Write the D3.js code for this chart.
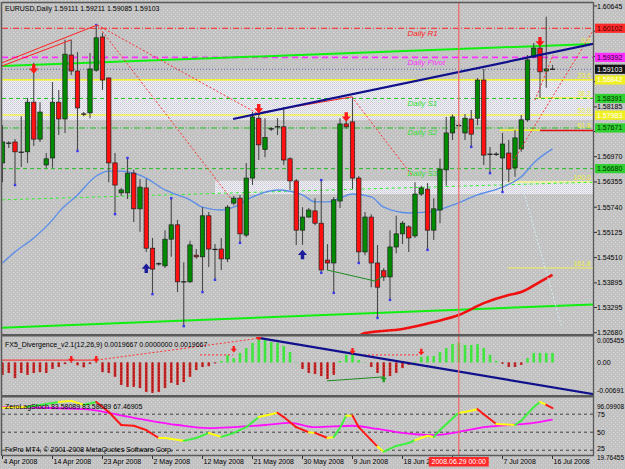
<!DOCTYPE html>
<html>
<head>
<meta charset="utf-8">
<title>EURUSD,Daily</title>
<script src="https://cdn.jsdelivr.net/npm/d3@7"></script>
<style>
  html, body { margin: 0; padding: 0; background: #c0c0c0; }
  svg { display: block; }
  text { font-family: "Liberation Sans", Arial, sans-serif; }
</style>
</head>
<body>
<div id="chart"></div>
<script>
// ---- values ----

// daily bars 4 Apr .. 16 Jul 2008 (broker has Sunday stubs), [open, high, low, close]
const ohlc = [
  [1.5682,1.5774,1.5635,1.5733],[1.5728,1.5735,1.5718,1.5730],[1.5733,1.5740,1.5628,1.5709],[1.5710,1.5796,1.5672,1.5708],
  [1.5709,1.5840,1.5682,1.5830],[1.5830,1.5926,1.5723,1.5740],[1.5740,1.5830,1.5733,1.5806],[1.5677,1.5706,1.5670,1.5692],
  [1.5694,1.5879,1.5670,1.5830],[1.5830,1.5860,1.5750,1.5789],[1.5789,1.5982,1.5755,1.5947],[1.5945,1.5982,1.5896,1.5906],
  [1.5906,1.5952,1.5711,1.5816],[1.5803,1.5806,1.5796,1.5801],[1.5804,1.5950,1.5791,1.5911],[1.5908,1.6018,1.5904,1.5987],
  [1.5989,1.5999,1.5860,1.5884],[1.5889,1.5891,1.5635,1.5682],[1.5682,1.5706,1.5557,1.5628],[1.5609,1.5621,1.5601,1.5616],
  [1.5609,1.5694,1.5594,1.5657],[1.5657,1.5665,1.5538,1.5570],[1.5570,1.5643,1.5514,1.5623],[1.5621,1.5643,1.5465,1.5474],
  [1.5474,1.5499,1.5362,1.5423],[1.5437,1.5440,1.5431,1.5436],[1.5431,1.5518,1.5426,1.5496],[1.5496,1.5596,1.5453,1.5531],
  [1.5531,1.5543,1.5367,1.5392],[1.5394,1.5440,1.5284,1.5392],[1.5392,1.5492,1.5389,1.5482],[1.5457,1.5472,1.5448,1.5453],
  [1.5453,1.5574,1.5367,1.5553],[1.5553,1.5562,1.5428,1.5472],[1.5473,1.5484,1.5397,1.5471],[1.5472,1.5499,1.5421,1.5448],
  [1.5448,1.5579,1.5440,1.5574],[1.5584,1.5601,1.5579,1.5596],[1.5596,1.5604,1.5487,1.5509],[1.5506,1.5682,1.5501,1.5645],
  [1.5645,1.5806,1.5628,1.5794],[1.5791,1.5811,1.5689,1.5726],[1.5715,1.5791,1.5696,1.5744],[1.5764,1.5769,1.5760,1.5765],
  [1.5767,1.5791,1.5750,1.5770],[1.5770,1.5818,1.5677,1.5689],[1.5692,1.5696,1.5616,1.5638],[1.5638,1.5643,1.5482,1.5518],
  [1.5518,1.5574,1.5482,1.5550],[1.5550,1.5572,1.5548,1.5567],[1.5565,1.5596,1.5530,1.5535],[1.5535,1.5640,1.5414,1.5421],
  [1.5445,1.5484,1.5421,1.5438],[1.5438,1.5599,1.5365,1.5592],[1.5589,1.5791,1.5572,1.5777],[1.5777,1.5787,1.5765,1.5770],
  [1.5782,1.5843,1.5618,1.5645],[1.5645,1.5650,1.5438,1.5465],[1.5465,1.5562,1.5457,1.5550],[1.5550,1.5557,1.5379,1.5438],
  [1.5438,1.5482,1.5304,1.5379],[1.5419,1.5426,1.5394,1.5404],[1.5404,1.5518,1.5348,1.5477],[1.5477,1.5553,1.5462,1.5509],
  [1.5509,1.5540,1.5484,1.5535],[1.5526,1.5530,1.5465,1.5499],[1.5504,1.5635,1.5499,1.5606],[1.5606,1.5626,1.5601,1.5621],
  [1.5618,1.5633,1.5470,1.5518],[1.5518,1.5596,1.5494,1.5570],[1.5567,1.5692,1.5535,1.5667],[1.5665,1.5794,1.5626,1.5755],
  [1.5755,1.5800,1.5738,1.5794],[1.5775,1.5779,1.5769,1.5773],[1.5755,1.5801,1.5738,1.5791],[1.5789,1.5811,1.5721,1.5752],
  [1.5791,1.5889,1.5774,1.5884],[1.5884,1.5911,1.5677,1.5701],[1.5704,1.5721,1.5657,1.5703],[1.5704,1.5708,1.5699,1.5703],
  [1.5694,1.5755,1.5611,1.5728],[1.5706,1.5738,1.5635,1.5667],[1.5670,1.5762,1.5648,1.5743],[1.5716,1.5799,1.5709,1.5787],
  [1.5787,1.5945,1.5782,1.5933],[1.5940,1.5974,1.5938,1.5962],[1.5962,1.5982,1.5840,1.5904],[1.5906,1.6038,1.5865,1.5911],
  [1.59111,1.59211,1.59085,1.59103]
];

const dateTicks = [
  [0,"4 Apr 2008"],[8,"14 Apr 2008"],[16,"23 Apr 2008"],[24,"2 May 2008"],[32,"12 May 2008"],[40,"21 May 2008"],
  [48,"30 May 2008"],[56,"9 Jun 2008"],[64,"18 Jun 2008"],[72,"27 Jun 2008"],[80,"7 Jul 2008"],[88,"16 Jul 2008"]
];
const cursorBar = 73, cursorLabel = "2008.06.29 00:00";

const priceTicks = [1.60645,1.60030,1.59415,1.58800,1.58185,1.57585,1.56970,1.56355,1.55740,1.55125,1.54510,1.53895,1.53295,1.52680];

const pivots = [["Daily R1",1.60102],["Daily Pivot",1.59392],["Daily S1",1.58391],["Daily S2",1.57671],["Daily S3",1.56680]];
const lastPrice = 1.59103;
const fibLevels = [["0.0",1.59694],["23.6",1.58842],["38.2",1.58402],["50.0",1.57987],["61.8",1.57621],["100.0",1.56354],["161.8",1.54257]];
const fibBoxes = [1.58842, 1.57983];

// moving averages, sampled [bar, price]
const maBlue = [[0,1.5438],[2,1.5465],[5,1.5499],[8,1.5543],[9,1.5562],[12,1.5604],[15,1.5650],[17,1.5662],[19,1.5662],
  [21,1.5657],[23,1.5645],[26,1.5616],[28,1.5604],[30,1.5592],[32,1.5574],[35,1.5567],[37,1.5574],[40,1.5599],[44,1.5616],
  [48,1.5604],[50,1.5587],[52,1.5587],[54,1.5596],[56,1.5606],[59,1.5599],[61,1.5574],[65,1.5560],[68,1.5562],[72,1.5579],
  [76,1.5604],[80,1.5623],[83,1.5648],[85,1.5682],[88,1.5716]];
const maRed = [[56,1.5250],[58,1.5267],[64,1.5277],[69,1.5294],[73,1.5311],[77,1.5340],[81,1.5360],[83,1.5367],[86,1.5392],[88,1.5409]];

// drawn objects, anchors as [bar, price]
const channelTop = [[-0.1,1.5918],[94.5,1.5972]];
const channelBot = [[-0.1,1.5280],[94.5,1.5337]];
const blueTrend = [[36.9,1.5789],[94.5,1.5972]];
const greenDash = [[-0.1,1.5592],[94.5,1.5635]];
const redSolid = [[[-0.1,1.5926],[15.1,1.6018]],[[-0.1,1.5918],[11,1.5982]],[[41,1.5804],[55.9,1.5843]]];
const redDotted = [[[15.2,1.6018],[41.2,1.5799]],[[15.2,1.6018],[36.7,1.5592]],[[55.9,1.5843],[65.5,1.5652]],
  [[81.8,1.5689],[97.5,1.6079]],[[85.2,1.5835],[88.1,1.5945]]];
const cyanDotted = [[83.1,1.5628],[89.5,1.5280]];
const greenDiv = [[51.9,1.5421],[59.6,1.5394],[60.9,1.5406]];
const band1 = [1.58841, 1.5787];
const band2 = [1.5638, 1.5606, 34];
const fib618Seg = [[79.6,86],[86,94.5]];
const fib382Seg = [85.5,94.5];
const fibLowSeg = 80.8;

const arrowsDown = [[5,1.5908],[41,1.5811],[55,1.5791],[86,1.5974]];
const arrowsUp = [[23,1.5428],[48,1.5462]];
const fractals = [[2,"l"],[12,"l"],[15,"h"],[18,"l"],[20,"h"],[24,"l"],[27,"h"],[29,"l"],[32,"l"],[34,"l"],[38,"l"],
  [51,"h"],[51,"l"],[53,"l"],[57,"l"],[60,"l"],[62,"l"],[68,"l"],[75,"l"],[78,"l"],[80,"l"]];

// FX5_Divergence histogram
const macd = [-0.0031,-0.0026,-0.0039,-0.0026,-0.0031,-0.0026,-0.0024,-0.0026,-0.0016,-0.0011,-0.0004,-0.0001,-0.0007,
  -0.0012,-0.0004,-0.0001,-0.0024,-0.0026,-0.0036,-0.0056,-0.0061,-0.0061,-0.0064,-0.0074,-0.0076,-0.0074,-0.0064,-0.0051,
  -0.0056,-0.0049,-0.0036,-0.0019,-0.0011,-0.0009,-0.0002,0.0004,0.0019,0.0011,0.0024,0.0036,0.0049,0.0061,0.0059,0.0051,
  0.0049,0.0041,0.0026,0.0001,-0.0016,-0.0026,-0.0029,-0.0034,-0.0041,-0.0031,0.0004,0.0019,0.0026,0.0006,0.0001,-0.0011,
  -0.0026,-0.0036,-0.0034,-0.0026,-0.0014,-0.0006,0.0002,0.0014,0.0016,0.0016,0.0026,0.0036,0.0046,0.0049,0.0044,0.0044,
  0.0046,0.0036,0.0019,0.0004,-0.0003,-0.0011,-0.0011,-0.0006,0.0011,0.0024,0.0024,0.0024,0.0024];
const macdRedSolid = [[-0.1,0.0006],[15.1,0.0006]];
const macdRedDotted = [[[15.1,0.0006],[41.2,0.0061]],[[31.6,0.0019],[36.9,0.0019]],[[57.2,0.0019],[66.8,0.0019]]];
const macdBlue = [[41.2,0.0061],[94.5,-0.0079]];
const macdGreen = [[51.9,-0.0046],[61,-0.0036]];
const macdDown = [[11,0.0006],[15,0.0006],[37,0.0031],[41,0.0061],[56,0.0026],[67,0.0024]];
const macdUp = [[61,-0.0039]];

// ZeroLagStoch main [bar, value, colour code], signal [bar, value]
const stochMain = [[0,83.8,"Y"],[4,85,"Y"],[9,92,"G"],[11,93.5,"Y"],[13,88,"Y"],[15,92,"G"],[17,78,"R"],[19,60,"R"],
  [21,59,"R"],[23,53,"R"],[25,42,"R"],[26,42,"Y"],[29,38,"Y"],[31,42,"G"],[33,49,"G"],[35,43.5,"Y"],[37,49,"G"],[39,57,"G"],
  [41,71,"G"],[43,75,"Y"],[44,77,"Y"],[45,71,"R"],[47,57,"R"],[49,50,"R"],[50,49,"Y"],[52,42,"R"],[53,43.5,"Y"],[54,56,"G"],
  [55,73,"G"],[56,73,"Y"],[57,57,"R"],[59,39,"R"],[60,30,"R"],[61,23,"Y"],[63,31,"G"],[65,35,"G"],[66,39,"G"],[68,45,"Y"],
  [69,43.5,"Y"],[70,53,"G"],[73,77,"G"],[74,78,"Y"],[76,82,"Y"],[77,75,"R"],[79,61.5,"R"],[82,60,"Y"],[83,66,"G"],[85,85,"G"],
  [86,92,"G"],[87,88,"Y"],[88,83.58,"R"]];
const stochSignal = [[0,85],[13,82],[21,70],[28,60],[33,55.6],[37,57],[42,60],[46,63],[50,57],[56,59],[60,54.6],[64,49],
  [69,46],[73,50.4],[77,57],[81,60],[85,63],[88,67.47]];
const stochLevels = [75, 50, 25];

// ---- chart ----
const W = 625, H = 469;
const L = 2, R = 593;
const pane = { main: [3, 334], macd: [337, 395], stoch: [398, 455] };
const FS = 7;

const svg = d3.select("#chart").append("svg").attr("width", W).attr("height", H);
const defs = svg.append("defs");

const bgPat = defs.append("pattern").attr("id", "bg").attr("width", 4).attr("height", 4).attr("patternUnits", "userSpaceOnUse");
bgPat.append("rect").attr("width", 4).attr("height", 4).attr("fill", "#c2c2c2");
bgPat.append("rect").attr("x", 1).attr("y", 0).attr("width", 1).attr("height", 1).attr("fill", "#d6d6d6");
bgPat.append("rect").attr("x", 3).attr("y", 2).attr("width", 1).attr("height", 1).attr("fill", "#d6d6d6");

const bandPat = defs.append("pattern").attr("id", "band").attr("width", 2).attr("height", 2).attr("patternUnits", "userSpaceOnUse");
bandPat.append("rect").attr("width", 2).attr("height", 2).attr("fill", "#f2f2f6");
bandPat.append("rect").attr("width", 1).attr("height", 1).attr("fill", "#c8c8d6");
bandPat.append("rect").attr("x", 1).attr("y", 1).attr("width", 1).attr("height", 1).attr("fill", "#d8d8e2");

Object.entries(pane).forEach(([k, [t, b]]) => {
  defs.append("clipPath").attr("id", "clip-" + k)
    .append("rect").attr("x", L).attr("y", t).attr("width", R - L).attr("height", b - t);
});

svg.append("rect").attr("width", W).attr("height", H).attr("fill", "url(#bg)");

const x = d3.scaleLinear().domain([0, 88]).range([2.5, 552.5]);
const y = d3.scaleLinear().domain([1.52680, 1.60645]).range([332.7, 6]);
const yM = d3.scaleLinear().domain([0, 0.005455]).range([362.5, 340.7]);
const yS = d3.scaleLinear().domain([19.76455, 96.09908]).range([454, 399]);

const line = (ys) => d3.line().x(d => x(d[0])).y(d => ys(d[1]));

// ---- main pane ----
const main = svg.append("g").attr("clip-path", "url(#clip-main)");

main.append("rect").attr("x", L).attr("width", R - L)
  .attr("y", y(band1[0])).attr("height", y(band1[1]) - y(band1[0])).attr("fill", "url(#band)");
main.append("rect").attr("x", x(band2[2])).attr("width", R - x(band2[2]))
  .attr("y", y(band2[0])).attr("height", y(band2[1]) - y(band2[0])).attr("fill", "url(#band)");

// fibonacci lines
const fib = Object.fromEntries(fibLevels);
["23.6", "50.0"].forEach(k => {
  main.append("line").attr("x1", L).attr("x2", R).attr("y1", y(fib[k])).attr("y2", y(fib[k]))
    .attr("stroke", "#ffff00").attr("stroke-width", 1.2);
});
main.append("line").attr("x1", x(fib382Seg[0])).attr("x2", x(fib382Seg[1]))
  .attr("y1", y(fib["38.2"])).attr("y2", y(fib["38.2"])).attr("stroke", "#ffff00").attr("stroke-width", 1);
main.append("line").attr("x1", x(fib618Seg[0][0])).attr("x2", x(fib618Seg[0][1]))
  .attr("y1", y(fib["61.8"])).attr("y2", y(fib["61.8"])).attr("stroke", "#ffff00").attr("stroke-width", 1.2);
main.append("line").attr("x1", x(fib618Seg[1][0])).attr("x2", x(fib618Seg[1][1]))
  .attr("y1", y(fib["61.8"]) + 0.5).attr("y2", y(fib["61.8"]) + 0.5).attr("stroke", "#e01010").attr("stroke-width", 1.6);
main.append("line").attr("x1", x(fibLowSeg)).attr("x2", R)
  .attr("y1", y(fib["100.0"])).attr("y2", y(fib["100.0"])).attr("stroke", "#ffff60").attr("stroke-width", 1);
main.append("line").attr("x1", x(fibLowSeg)).attr("x2", R)
  .attr("y1", y(fib["161.8"])).attr("y2", y(fib["161.8"])).attr("stroke", "#f0f060").attr("stroke-width", 1);

// pivot levels
const pivStyle = {
  "Daily R1": { c: "#ff2020", t: "#ff2020", dash: "6,2,1,2", w: 1 },
  "Daily Pivot": { c: "#ff30ff", t: "#ff30ff", dash: "6,4", w: 1.6 },
  "Daily S1": { c: "#20c020", t: "#30e030", dash: "4,3", w: 1 },
  "Daily S2": { c: "#20c020", t: "#30e030", dash: "6,2,1,2", w: 1 },
  "Daily S3": { c: "#20c020", t: "#30e030", dash: "4,3", w: 1 }
};
main.selectAll("line.piv").data(pivots).join("line")
  .attr("x1", L).attr("x2", R).attr("y1", d => y(d[1])).attr("y2", d => y(d[1]))
  .attr("stroke", d => pivStyle[d[0]].c).attr("stroke-dasharray", d => pivStyle[d[0]].dash)
  .attr("stroke-width", d => pivStyle[d[0]].w);
main.selectAll("text.piv").data(pivots).join("text")
  .attr("x", x(64.8)).attr("y", d => y(d[1]) + 7.5)
  .attr("font-size", 8).attr("font-style", "italic")
  .attr("fill", d => pivStyle[d[0]].t)
  .text(d => d[0]);

main.append("line").attr("x1", L).attr("x2", R).attr("y1", y(lastPrice)).attr("y2", y(lastPrice))
  .attr("stroke", "#5868a8").attr("stroke-dasharray", "1,2").attr("stroke-width", 1);

// channel + dashed green
[channelTop, channelBot].forEach(c => {
  main.append("path").attr("d", line(y)(c)).attr("stroke", "#10f010").attr("stroke-width", 2).attr("fill", "none");
});
main.append("path").attr("d", line(y)(greenDash)).attr("stroke", "#30f030").attr("stroke-width", 1)
  .attr("stroke-dasharray", "3,3").attr("fill", "none");

// moving averages
main.append("path").attr("d", line(y).curve(d3.curveMonotoneX)(maBlue)).attr("fill", "none")
  .attr("stroke", "#5d8fe8").attr("stroke-width", 1.4);
main.append("path").attr("d", line(y).curve(d3.curveMonotoneX)(maRed)).attr("fill", "none")
  .attr("stroke", "#f01010").attr("stroke-width", 2.6);

// candles
const bodyW = 4.4;
const isDoji = d => Math.abs(y(d[0]) - y(d[3])) < 1.4;
main.append("g").selectAll("line").data(ohlc).join("line")
  .attr("x1", (d, i) => x(i)).attr("x2", (d, i) => x(i))
  .attr("y1", d => y(d[1])).attr("y2", d => y(d[2]))
  .attr("stroke", "#484848").attr("stroke-width", 1.1);
main.append("g").selectAll("rect").data(ohlc.map((d, i) => [d, i]).filter(([d]) => !isDoji(d))).join("rect")
  .attr("x", ([, i]) => x(i) - bodyW / 2).attr("width", bodyW)
  .attr("y", ([d]) => y(Math.max(d[0], d[3])))
  .attr("height", ([d]) => Math.abs(y(d[0]) - y(d[3])))
  .attr("fill", ([d]) => d[3] > d[0] ? "#008a00" : "#ff1010")
  .attr("stroke", "#202020").attr("stroke-width", 0.7);
main.append("g").selectAll("line").data(ohlc.map((d, i) => [d, i]).filter(([d]) => isDoji(d))).join("line")
  .attr("x1", ([, i]) => x(i) - 2.6).attr("x2", ([, i]) => x(i) + 2.6)
  .attr("y1", ([d]) => y(d[3])).attr("y2", ([d]) => y(d[3]))
  .attr("stroke", "#202020").attr("stroke-width", 1.3);

// fractal dots
main.append("g").selectAll("rect").data(fractals).join("rect")
  .attr("x", d => x(d[0]) - 1.2).attr("width", 2.4).attr("height", 2.4)
  .attr("y", d => y(d[1] === "h" ? ohlc[d[0]][1] : ohlc[d[0]][2]) - 1.2)
  .attr("fill", "#3838f0");

// drawn trendlines
redSolid.forEach(s => main.append("path").attr("d", line(y)(s)).attr("stroke", "#ff2020").attr("stroke-width", 1).attr("fill", "none"));
redDotted.forEach(s => main.append("path").attr("d", line(y)(s)).attr("stroke", "#ff3030").attr("stroke-width", 1)
  .attr("stroke-dasharray", "2,2").attr("fill", "none"));
main.append("path").attr("d", line(y)(cyanDotted)).attr("stroke", "#d0f0f8").attr("stroke-width", 1)
  .attr("stroke-dasharray", "2,2").attr("fill", "none");
main.append("path").attr("d", line(y)(greenDiv)).attr("stroke", "#208a20").attr("stroke-width", 1).attr("fill", "none");
main.append("path").attr("d", line(y)(blueTrend)).attr("stroke", "#10108c").attr("stroke-width", 2.2).attr("fill", "none");

// signal arrows
const downPath = "M-1.7,-6h3.4v4.2h2.8l-4.5,5.3l-4.5,-5.3h2.8z";
const upPath = "M-1.7,6h3.4v-4.2h2.8l-4.5,-5.3l-4.5,5.3h2.8z";
main.selectAll("path.dn").data(arrowsDown).join("path")
  .attr("transform", d => `translate(${x(d[0])},${y(d[1])})`).attr("d", downPath).attr("fill", "#ff1a1a");
main.selectAll("path.up").data(arrowsUp).join("path")
  .attr("transform", d => `translate(${x(d[0])},${y(d[1])})`).attr("d", upPath).attr("fill", "#1c1c9c");

// fib labels
main.selectAll("text.fib").data(fibLevels).join("text")
  .attr("x", R - 2).attr("y", d => y(d[1]) - 2).attr("text-anchor", "end")
  .attr("font-size", FS).attr("fill", "#f0f040").text(d => d[0]);

svg.append("text").attr("x", 5).attr("y", 11).attr("font-size", FS).attr("fill", "#000")
  .text("EURUSD,Daily  1.59111 1.59211 1.59085 1.59103");

// ---- FX5_Divergence pane ----
const p1 = svg.append("g").attr("clip-path", "url(#clip-macd)");
p1.selectAll("rect").data(macd).join("rect")
  .attr("x", (d, i) => x(i) - 1.3).attr("width", 2.6)
  .attr("y", d => Math.min(yM(d), yM(0))).attr("height", d => Math.abs(yM(d) - yM(0)))
  .attr("fill", d => d >= 0 ? "#3ee63e" : "#d02a2a");
p1.selectAll("line.dot").data(macd.map((d, i) => [d, i]).filter(([d]) => d < 0)).join("line")
  .attr("x1", ([, i]) => x(i)).attr("x2", ([, i]) => x(i))
  .attr("y1", yM(0)).attr("y2", ([d]) => yM(d))
  .attr("stroke", "#5a0000").attr("stroke-width", 0.9).attr("stroke-dasharray", "1,2");
p1.append("path").attr("d", line(yM)(macdRedSolid)).attr("stroke", "#ff2020").attr("fill", "none");
macdRedDotted.forEach(s => p1.append("path").attr("d", line(yM)(s)).attr("stroke", "#ff3030")
  .attr("stroke-dasharray", "2,2").attr("fill", "none"));
p1.append("path").attr("d", line(yM)(macdGreen)).attr("stroke", "#208a20").attr("fill", "none");
p1.append("path").attr("d", line(yM)(macdBlue)).attr("stroke", "#10108c").attr("stroke-width", 2.2).attr("fill", "none");
p1.selectAll("path.dn").data(macdDown).join("path")
  .attr("transform", d => `translate(${x(d[0])},${yM(d[1])}) scale(0.7)`).attr("d", downPath).attr("fill", "#ff1a1a");
p1.selectAll("path.up").data(macdUp).join("path")
  .attr("transform", d => `translate(${x(d[0])},${yM(d[1])}) scale(0.7)`).attr("d", upPath).attr("fill", "#20a020");
svg.append("text").attr("x", 5).attr("y", 347).attr("font-size", FS).attr("fill", "#000")
  .text("FX5_Divergence_v2.1(12,26,9) 0.0019667 0.0000000 0.0019667");

// ---- ZeroLagStoch pane ----
const p2 = svg.append("g").attr("clip-path", "url(#clip-stoch)");
p2.selectAll("line.lvl").data(stochLevels).join("line")
  .attr("x1", L).attr("x2", R).attr("y1", d => yS(d)).attr("y2", d => yS(d))
  .attr("stroke", "#202020").attr("stroke-dasharray", "3,3").attr("stroke-width", 0.8);
p2.append("path").attr("d", line(yS).curve(d3.curveMonotoneX)(stochSignal)).attr("fill", "none")
  .attr("stroke", "#ff10ff").attr("stroke-width", 1.8);
const stochCol = { G: "#40f040", Y: "#ffff10", R: "#ff1818" };
p2.selectAll("line.seg").data(d3.pairs(stochMain)).join("line")
  .attr("x1", d => x(d[0][0])).attr("y1", d => yS(d[0][1]))
  .attr("x2", d => x(d[1][0])).attr("y2", d => yS(d[1][1]))
  .attr("stroke", d => stochCol[d[1][2]]).attr("stroke-width", 2).attr("stroke-linecap", "round");
svg.append("text").attr("x", 5).attr("y", 409).attr("font-size", FS).attr("fill", "#000")
  .text("ZeroLagStoch 83.58089 83.58089 67.46905");
svg.append("text").attr("x", 5).attr("y", 452).attr("font-size", FS).attr("fill", "#000")
  .text("FxPro MT4, \u00a9 2001-2008 MetaQuotes Software Corp.");

// cursor line
svg.append("line").attr("x1", x(cursorBar)).attr("x2", x(cursorBar)).attr("y1", pane.main[0]).attr("y2", pane.stoch[1])
  .attr("stroke", "#f06a6a").attr("stroke-width", 1.4).attr("opacity", 0.9);

// ---- frames ----
const frame = svg.append("g").attr("fill", "none").attr("stroke", "#5a5a5a");
frame.append("line").attr("x1", L - 0.5).attr("x2", L - 0.5).attr("y1", 2).attr("y2", pane.stoch[1]).attr("stroke-width", 1.5);
frame.append("line").attr("x1", R + 0.5).attr("x2", R + 0.5).attr("y1", 2).attr("y2", pane.stoch[1] + 1).attr("stroke-width", 1.3);
frame.append("line").attr("x1", L).attr("x2", R).attr("y1", 2.5).attr("y2", 2.5).attr("stroke-width", 1.5);
[pane.main[1] + 1.3, pane.macd[1] + 1.2].forEach(v => {
  frame.append("line").attr("x1", L - 1).attr("x2", R + 1).attr("y1", v).attr("y2", v).attr("stroke-width", 2.4);
});
frame.append("line").attr("x1", L - 1).attr("x2", R + 1).attr("y1", pane.stoch[1] + 0.5).attr("y2", pane.stoch[1] + 0.5).attr("stroke-width", 1.5);

// ---- price axis ----
const boxStyle = {
  "Daily R1": ["#ff2a2a", "#400000"], "Daily Pivot": ["#ff30ff", "#300030"],
  "Daily S1": ["#30d030", "#003000"], "Daily S2": ["#30d030", "#003000"], "Daily S3": ["#30d030", "#003000"]
};
const boxes = pivots.map(p => [p[1], ...boxStyle[p[0]]])
  .concat(fibBoxes.map(v => [v, "#f0f020", "#ffffff"]))
  .concat([[lastPrice, "#141414", "#ffffff"]]);
// tick labels that sit under a coloured box are hidden in MT4
const freeTicks = priceTicks.filter(t => !boxes.some(b => Math.abs(y(b[0]) - y(t)) < 8));

const axisG = svg.append("g").attr("font-size", FS);
axisG.selectAll("line").data(priceTicks).join("line")
  .attr("x1", R + 1).attr("x2", R + 4).attr("y1", d => y(d)).attr("y2", d => y(d)).attr("stroke", "#303030");
axisG.selectAll("text").data(freeTicks).join("text")
  .attr("x", 597).attr("y", d => y(d) + 2.5).attr("fill", "#000").text(d => d.toFixed(5));

const bx = axisG.selectAll("g.box").data(boxes).join("g");
bx.append("rect").attr("x", R + 2).attr("width", W - R - 2).attr("y", d => y(d[0]) - 4.6).attr("height", 9.2)
  .attr("fill", d => d[1]);
bx.append("text").attr("x", 597).attr("y", d => y(d[0]) + 2.5).attr("fill", d => d[2]).text(d => d[0].toFixed(5));

// indicator axes
const p1Labels = [[0.005455, "0.005455"], [0, "0.00"], [-0.00691, "-0.00691"]];
axisG.selectAll("text.p1").data(p1Labels).join("text")
  .attr("x", 597).attr("y", d => Math.min(yM(d[0]), 391) + 2.5).attr("fill", "#000")
  .attr("textLength", d => d[1].length > 7 ? 27 : null).attr("lengthAdjust", "spacingAndGlyphs")
  .text(d => d[1]);
const p2Labels = [[96.09908, "96.09908", 7], [75, "75", 0], [50, "50", 0], [25, "25", -1.5], [19.76455, "19.76455", 3]];
axisG.selectAll("text.p2").data(p2Labels).join("text")
  .attr("x", 597).attr("y", d => yS(d[0]) + d[2] + 2.5).attr("fill", "#000")
  .attr("textLength", d => d[1].length > 7 ? 27 : null).attr("lengthAdjust", "spacingAndGlyphs")
  .text(d => d[1]);

// ---- time axis ----
const boxL = x(cursorBar) - 30, boxR = x(cursorBar) + 30;
const tg = svg.append("g").attr("font-size", FS);
tg.selectAll("line").data(dateTicks).join("line")
  .attr("x1", d => x(d[0])).attr("x2", d => x(d[0])).attr("y1", pane.stoch[1] + 1).attr("y2", pane.stoch[1] + 4)
  .attr("stroke", "#303030");
tg.selectAll("text").data(dateTicks.filter(d => x(d[0]) < boxL - 2 || x(d[0]) > boxR)).join("text")
  .attr("x", d => x(d[0]) + 1).attr("y", 464).attr("fill", "#000").text(d => d[1]);
tg.append("rect").attr("x", boxL).attr("y", 457).attr("width", boxR - boxL).attr("height", 9.5).attr("fill", "#ff2a2a");
tg.append("text").attr("x", x(cursorBar)).attr("y", 464).attr("text-anchor", "middle").attr("fill", "#fff").text(cursorLabel);
</script>
</body>
</html>
